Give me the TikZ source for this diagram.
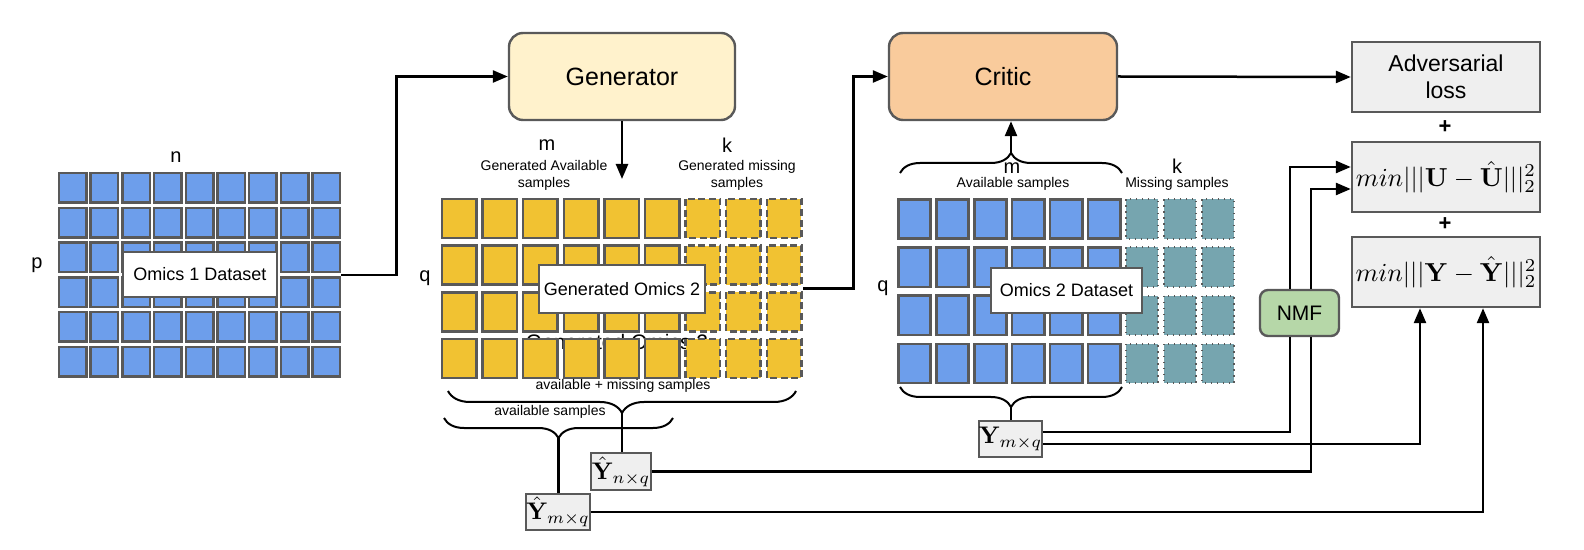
\documentclass[tikz,border=0pt]{standalone}
\usepackage{amsmath}
\usepackage{graphicx}
\usepackage[no-math]{fontspec}
\setmainfont{Liberation Sans}
\usetikzlibrary{arrows.meta,decorations.pathreplacing,calc}

\definecolor{cblue}{HTML}{6D9EEB}
\definecolor{cyel}{HTML}{F1C232}
\definecolor{cteal}{HTML}{76A5AF}
\definecolor{cedge}{HTML}{595959}
\definecolor{cgen}{HTML}{FFF2CC}
\definecolor{ccrit}{HTML}{F9CB9C}
\definecolor{closs}{HTML}{EFEFEF}
\definecolor{cnmf}{HTML}{B6D7A8}

\tikzset{
  cellb/.style={draw=cedge, line width=1.25pt, fill=cblue},
  celly/.style={draw=cedge, line width=1.25pt, fill=cyel},
  cellyd/.style={draw=cedge, line width=1.25pt, fill=cyel, dash pattern=on 3.5pt off 1.8pt},
  cellt/.style={draw=cedge, line width=1pt, fill=cteal, dash pattern=on 0.8pt off 2.2pt},
  gridarea/.style={draw=none, inner sep=0pt},
  lab/.style={draw=cedge, line width=1pt, fill=white, inner sep=0pt, font=\fontsize{9}{11}\selectfont},
  net/.style={draw=cedge, line width=1.2pt, rounded corners=7pt, inner sep=0pt, font=\fontsize{12.5}{15}\selectfont},
  lossbox/.style={draw=cedge, line width=1.2pt, fill=closs, minimum width=94pt, minimum height=35pt, inner sep=0pt, align=center},
  mbox/.style={draw=cedge, line width=1.2pt, fill=closs, inner sep=0pt},
  conn/.style={line width=1.25pt},
  arr/.style={conn, -{Triangle[length=7.5pt,width=6pt]}},
  brc/.style={decorate, line width=1pt, decoration={brace, amplitude=#1}},
  lbl/.style={font=\fontsize{7}{8.5}\selectfont, align=center, inner sep=0pt},
  dimlabel/.style={font=\fontsize{10}{12}\selectfont, inner sep=0pt},
}

\begin{document}
\begin{tikzpicture}[x=0.5pt,y=-0.5pt]
\useasboundingbox (0,0) rectangle (1584,550);

% ---------- Omics 1 grid ----------
\foreach \i in {0,...,8} {
  \foreach \j in {0,...,5} {
    \draw[cellb] ({59+\i*31.7},{173+\j*34.8}) rectangle ++(27.5,29.5);
  }
}
\node[gridarea, minimum width=141.5pt, minimum height=103pt] (om1) at (199.5,275) {};
\node[lab, minimum width=77pt, minimum height=22.5pt] (om1lab) at (200,274.5) {Omics 1 Dataset};
\node[dimlabel] (nlab) at (176,157) {n};
\node[dimlabel] (plab) at (37,265) {p};

% ---------- Generator ----------
\node[net, fill=cgen, minimum width=113pt, minimum height=43.5pt] (gen) at (622,76.5) {Generator};
\coordinate (genend) at (622,179);

% ---------- Generated Omics 2 grid ----------
\node[font=\fontsize{10.5}{12}\selectfont, inner sep=0pt, anchor=base] (ghost) at (617,350) {Generated Omics 2};
\foreach \i in {0,...,5} {
  \foreach \j in {0,...,3} {
    \draw[celly] ({442+\i*40.6},{199+\j*46.7}) rectangle ++(34.5,39);
  }
}
\foreach \i in {6,...,8} {
  \foreach \j in {0,...,3} {
    \draw[cellyd] ({442+\i*40.6},{199+\j*46.7}) rectangle ++(34.5,39);
  }
}
\node[gridarea, minimum width=181pt, minimum height=90.5pt] (og2) at (622,288.5) {};
\node[lab, minimum width=83pt, minimum height=24pt] (og2lab) at (622,289) {Generated Omics 2};
\node[dimlabel] (mlab1) at (547,145) {m};
\node[lbl] (genav) at (544,175.5) {Generated Available\\samples};
\node[dimlabel] (klab1) at (727,145) {k};
\node[lbl] (genmis) at (737,175.5) {Generated missing\\samples};
\node[dimlabel] (qlab1) at (425,278) {q};
\node[lbl] (avmis) at (623,386) {available + missing samples};
\node[lbl] (avs) at (550,412) {available samples};

% braces under generated grid
\draw[brc=11pt] (796,391) -- (448,391);
\coordinate (bigtip) at (622,413);
\draw[brc=10pt] (673,418) -- (444,418);
\coordinate (smalltip) at (558.5,438);

% ---------- Critic ----------
\node[net, fill=ccrit, minimum width=114pt, minimum height=43.5pt] (crit) at (1003,76.5) {Critic};

% critic grid
\foreach \i in {0,...,5} {
  \foreach \j in {0,...,3} {
    \draw[cellb] ({898.3+\i*37.97},{199.3+\j*48.2}) rectangle ++(32.3,39.3);
  }
}
\foreach \i in {6,...,8} {
  \foreach \j in {0,...,3} {
    \draw[cellt] ({898.3+\i*37.97},{199.3+\j*48.2}) rectangle ++(32.3,39.3);
  }
}
\node[gridarea, minimum width=112.5pt, minimum height=93pt] (o2) at (1009.5,291) {};
\node[lab, minimum width=75.5pt, minimum height=22.5pt] (o2lab) at (1066.5,290.5) {Omics 2 Dataset};
\node[dimlabel] (qlab2) at (883,288) {q};
\node[dimlabel] (mlab2) at (1012,168) {m};
\node[lbl] (avs2) at (1013,184) {Available samples};
\node[dimlabel] (klab2) at (1177,166) {k};
\node[lbl] (mis2) at (1177,184) {Missing samples};

\draw[brc=10pt] (900,173) -- (1122,173);
\coordinate (ctoptip) at (1011,153);
\draw[brc=10pt] (1122,387) -- (900,387);
\coordinate (cbottip) at (1011,407);

% ---------- Loss boxes ----------
\node[lossbox, font=\fontsize{11.5}{13.5}\selectfont] (adv) at (1446,77) {Adversarial\\loss};
\node[font=\bfseries\fontsize{11}{13}\selectfont, inner sep=0pt] (plus1) at (1445,127) {+};
\node[lossbox] (ubox) at (1446,177) {\scalebox{1.3}{$min|||\mathbf{U}-\hat{\mathbf{U}}|||_2^2$}};
\node[font=\bfseries\fontsize{11}{13}\selectfont, inner sep=0pt] (plus2) at (1445,224) {+};
\node[lossbox] (ybox) at (1446,272) {\scalebox{1.3}{$min|||\mathbf{Y}-\hat{\mathbf{Y}}|||_2^2$}};

% ---------- NMF and matrices ----------
\node[draw=cedge, line width=1.2pt, fill=cnmf, rounded corners=4pt, minimum width=39.5pt, minimum height=23pt, inner sep=0pt, font=\fontsize{10.5}{12}\selectfont] (nmf) at (1299.5,313) {NMF};
\node[mbox, minimum width=29.5pt, minimum height=18pt] (ym) at (1010.5,439) {\scalebox{1.2}{$\mathbf{Y}_{m\times q}$}};
\node[mbox, minimum width=30pt, minimum height=18.5pt] (yhn) at (621,471.5) {\scalebox{1.2}{$\hat{\mathbf{Y}}_{n\times q}$}};
\node[mbox, minimum width=30pt, minimum height=18pt] (yhm) at (558,512) {\scalebox{1.2}{$\hat{\mathbf{Y}}_{m\times q}$}};

% ---------- Connectors ----------
\draw[arr] (om1.east) -- ++(55,0) |- (gen.west);
\draw[arr] (gen.south) -- (genend);
\draw[arr] (og2.east) -- ++(50,0) |- (crit.west);
\draw[arr] (ctoptip) -- (ctoptip |- crit.south);
\draw[arr] (crit.east) -- (adv.west);
\draw[conn] (bigtip) -- (bigtip |- yhn.north);
\draw[conn] (smalltip) -- (smalltip |- yhm.north);
\draw[conn] (cbottip) -- (cbottip |- ym.north);
\draw[conn] ([yshift=3.5pt]ym.east) -| ([xshift=-4.75pt]nmf.south);
\draw[arr] ([xshift=-4.75pt]nmf.north) |- ([yshift=5pt]ubox.west);
\draw[conn] (yhn.east) -| ([xshift=5.75pt]nmf.south);
\draw[arr] ([xshift=5.75pt]nmf.north) |- ([yshift=-6pt]ubox.west);
\draw[arr] ([yshift=-2.5pt]ym.east) -| ([xshift=-13pt]ybox.south);
\draw[arr] (yhm.east) -| ([xshift=18.5pt]ybox.south);
\end{tikzpicture}
\end{document}
